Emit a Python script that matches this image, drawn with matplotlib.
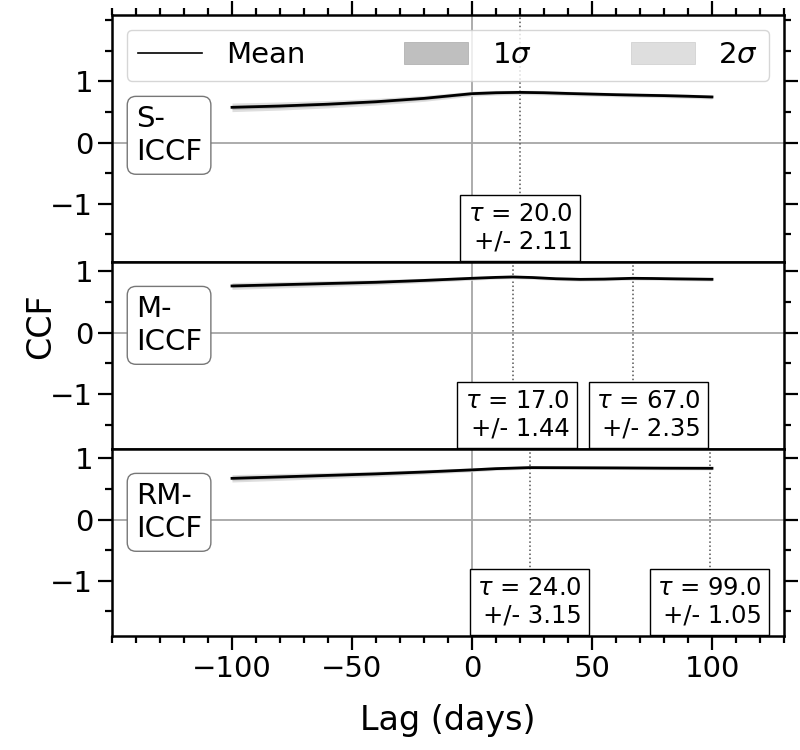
import numpy as np
import matplotlib
matplotlib.use("Agg")
import matplotlib.pyplot as plt
from matplotlib.lines import Line2D
from matplotlib.patches import Patch
from matplotlib.ticker import MultipleLocator

# ---- data ----
names = ["S-\nICCF", "M-\nICCF", "RM-\nICCF"]

lag_s = [-100, -80, -60, -40, -20, 0, 10, 20, 30, 40, 50, 60, 70, 80, 90, 100]
ccf_s = [0.574, 0.595, 0.625, 0.665, 0.72, 0.797, 0.812, 0.818, 0.812, 0.80,
         0.79, 0.78, 0.772, 0.765, 0.755, 0.743]
sig_s = [0.035, 0.033, 0.03, 0.027, 0.024, 0.02, 0.019, 0.018, 0.018, 0.018,
         0.017, 0.017, 0.017, 0.017, 0.017, 0.017]

lag_m = [-100, -80, -60, -40, -20, 0, 10, 17, 25, 35, 45, 55, 67, 75, 85, 100]
ccf_m = [0.76, 0.78, 0.80, 0.82, 0.85, 0.885, 0.90, 0.907, 0.898, 0.878,
         0.868, 0.872, 0.885, 0.882, 0.876, 0.869]
sig_m = [0.028, 0.026, 0.024, 0.021, 0.018, 0.015, 0.014, 0.014, 0.014, 0.014,
         0.014, 0.014, 0.014, 0.014, 0.014, 0.014]

lag_r = [-100, -80, -60, -40, -20, 0, 10, 24, 40, 60, 80, 100]
ccf_r = [0.672, 0.695, 0.72, 0.745, 0.775, 0.81, 0.83, 0.847, 0.845, 0.842,
         0.838, 0.836]
sig_r = [0.03, 0.028, 0.025, 0.022, 0.019, 0.016, 0.014, 0.013, 0.013, 0.013,
         0.013, 0.013]

lags = [lag_s, lag_m, lag_r]
ccfs = [ccf_s, ccf_m, ccf_r]
sigs = [sig_s, sig_m, sig_r]

peaks = [[20.0], [17.0, 67.0], [24.0, 99.0]]
peak_err = [[2.11], [1.44, 2.35], [3.15, 1.05]]
box_x = [[20.0], [18.8, 73.5], [24.0, 99.0]]  # where the tau boxes sit

ylims = [(-1.95, 2.08), (-1.9, 1.15), (-1.9, 1.15)]

plt.rcParams['font.size'] = 21

fig, axes = plt.subplots(3, 1, figsize=(8, 7.5), dpi=100, sharex=True,
                         gridspec_kw={'height_ratios': [y[1] - y[0] for y in ylims]})
fig.subplots_adjust(left=0.14, right=0.98, top=0.98, bottom=0.152, hspace=0)

c1 = '#bfbfbf'
c2 = '#dedede'

for i, ax in enumerate(axes):
    x = np.array(lags[i])
    y = np.array(ccfs[i])
    s = np.array(sigs[i])
    ax.axhline(0, color='#a6a6a6', lw=1.3, zorder=1)
    ax.axvline(0, color='#a6a6a6', lw=1.3, zorder=1)
    for p in peaks[i]:
        ax.axvline(p, color='#555555', lw=1.1, ls=':', zorder=1)
    ax.fill_between(x, y - 2 * s, y + 2 * s, color=c2, lw=0, zorder=2)
    ax.fill_between(x, y - s, y + s, color=c1, lw=0, zorder=2)
    ax.plot(x, y, color='k', lw=2, zorder=3)

    for p, e, bx in zip(peaks[i], peak_err[i], box_x[i]):
        ax.annotate(r"$\tau$ = %.1f" % p + "\n+/- %.2f" % e,
                    xy=(bx, 0), xycoords=ax.get_xaxis_transform(),
                    xytext=(0, 6), textcoords='offset points',
                    ha='center', va='bottom', multialignment='right',
                    fontsize=17.5, zorder=5,
                    bbox=dict(boxstyle='square,pad=0.3', fc='white', ec='k', lw=1))

    ax.text(-140, 0.61, names[i], ha='left', va='top', zorder=5,
            bbox=dict(boxstyle='round,pad=0.3', fc='white', ec='#777777', lw=1))

    ax.set_ylim(*ylims[i])
    ax.set_xlim(-150, 130)
    ax.set_yticks([-1, 0, 1])
    ax.yaxis.set_minor_locator(MultipleLocator(0.5))
    ax.xaxis.set_major_locator(MultipleLocator(50))
    ax.xaxis.set_minor_locator(MultipleLocator(10))
    ax.tick_params(which='both', direction='out', width=1.6, left=True, right=True,
                   top=False, bottom=False, labelbottom=False)
    ax.tick_params(which='major', length=10)
    ax.tick_params(which='minor', length=5)
    for sp in ax.spines.values():
        sp.set_linewidth(1.8)

axes[0].tick_params(axis='x', which='both', top=True)
axes[2].tick_params(axis='x', which='both', bottom=True, labelbottom=True)
axes[2].set_xticks([-100, -50, 0, 50, 100])

handles = [Line2D([], [], color='k', lw=1.2),
           Patch(facecolor=c1, edgecolor='#aaaaaa', lw=0.5),
           Patch(facecolor=c2, edgecolor='#cccccc', lw=0.5)]
axes[0].legend(handles, ['Mean', r'1$\sigma$', r'2$\sigma$'], ncol=3, mode='expand',
               loc='upper left', bbox_to_anchor=(0, 0, 1, 1), handlelength=2.2,
               handleheight=0.8, fontsize=21)

axes[2].set_xlabel('Lag (days)', fontsize=24, labelpad=15)
fig.supylabel('CCF', fontsize=24, x=0.03, y=0.565)

fig.savefig('out.png', dpi=100)
